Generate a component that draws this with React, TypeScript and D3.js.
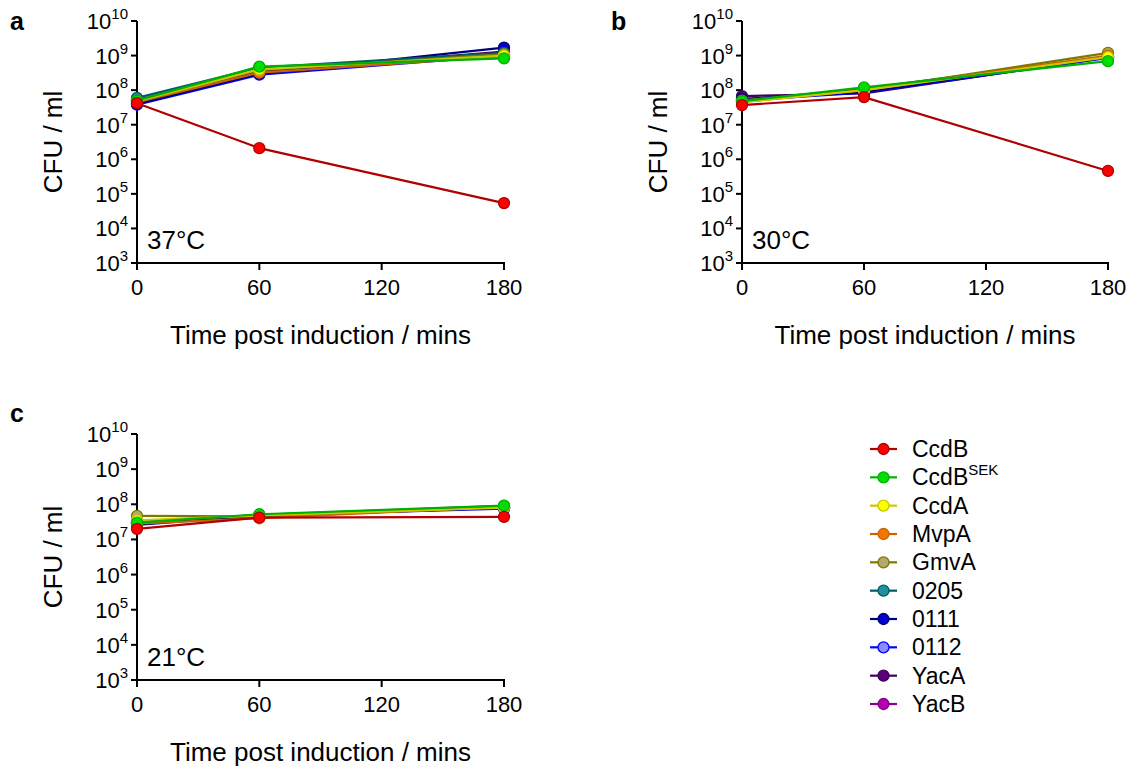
import React from "react";
import * as d3 from "d3";

const times = [0, 60, 180];
const xTicks = [0, 60, 120, 180];
const yExponents = [3, 4, 5, 6, 7, 8, 9, 10];
const seriesNames = ["CcdB", "CcdBSEK", "CcdA", "MvpA", "GmvA", "0205", "0111", "0112", "YacA", "YacB"];
const lineColors = ["#b00000", "#00b000", "#c8c800", "#c86400", "#7a7a00", "#005a6a", "#00007a", "#0000ff", "#40005a", "#8a008a"];
const fillColors = ["#ff0000", "#00dd00", "#ffff00", "#f07800", "#b4a86a", "#2090a0", "#0000d0", "#8c8cff", "#5a0078", "#b000b0"];

const panelA = [
  [4.2e7, 2.1e6, 5.4e4],
  [5.0e7, 4.8e8, 8.3e8],
  [4.8e7, 4.0e8, 1.0e9],
  [4.5e7, 3.2e8, 9.5e8],
  [5.0e7, 3.8e8, 1.1e9],
  [6.0e7, 4.5e8, 1.2e9],
  [4.0e7, 3.0e8, 1.7e9],
  [3.8e7, 2.8e8, 1.0e9],
  [5.2e7, 3.5e8, 1.3e9],
  [4.5e7, 3.5e8, 1.1e9],
];
const panelB = [
  [3.7e7, 6.3e7, 4.6e5],
  [4.8e7, 1.2e8, 6.9e8],
  [4.5e7, 1.0e8, 9.0e8],
  [4.5e7, 1.0e8, 1.0e9],
  [5.0e7, 1.0e8, 1.2e9],
  [5.0e7, 1.1e8, 9.5e8],
  [5.5e7, 9.0e7, 9.0e8],
  [5.0e7, 8.5e7, 8.5e8],
  [6.7e7, 8.0e7, 9.0e8],
  [5.5e7, 9.0e7, 9.0e8],
];
const panelC = [
  [2.0e7, 4.2e7, 4.4e7],
  [3.0e7, 5.2e7, 9.2e7],
  [3.5e7, 4.8e7, 8.0e7],
  [2.8e7, 4.0e7, 8.5e7],
  [4.7e7, 4.5e7, 8.5e7],
  [3.2e7, 5.0e7, 9.0e7],
  [2.6e7, 4.8e7, 8.0e7],
  [2.8e7, 4.8e7, 7.5e7],
  [3.0e7, 4.6e7, 8.0e7],
  [3.0e7, 4.6e7, 8.0e7],
];

const FONT = "Liberation Sans, Arial, sans-serif";

type PanelProps = {
  x0: number; x1: number; yTop: number; yBot: number;
  data: number[][]; letter: string; letterX: number; letterY: number; temp: string;
};

function Panel({ x0, x1, yTop, yBot, data, letter, letterX, letterY, temp }: PanelProps) {
  const x = d3.scaleLinear().domain([0, 180]).range([x0, x1]);
  const y = d3.scaleLog().domain([1e3, 1e10]).range([yBot, yTop]);
  const line = d3.line<number>().x((_, i) => x(times[i])).y((v) => y(v));
  const order = seriesNames.map((_, i) => i).reverse();
  return (
    <g>
      <text x={letterX} y={letterY} fontSize={25} fontWeight="bold" fontFamily={FONT}>{letter}</text>
      <line x1={x0} x2={x0} y1={yTop} y2={yBot} stroke="#000" strokeWidth={2} />
      <line x1={x0 - 1} x2={x1 + 1} y1={yBot} y2={yBot} stroke="#000" strokeWidth={2} />
      {yExponents.map((e) => (
        <g key={e}>
          <line x1={x0 - 6} x2={x0} y1={y(Math.pow(10, e))} y2={y(Math.pow(10, e))} stroke="#000" strokeWidth={2} />
          <text x={x0 - 9} y={y(Math.pow(10, e)) + 8} textAnchor="end" fontFamily={FONT} fontSize={22}>
            10<tspan fontSize={15} dy={-10}>{e}</tspan>
          </text>
        </g>
      ))}
      {xTicks.map((t) => (
        <g key={t}>
          <line x1={x(t)} x2={x(t)} y1={yBot} y2={yBot + 7} stroke="#000" strokeWidth={2} />
          <text x={x(t)} y={yBot + 32} textAnchor="middle" fontFamily={FONT} fontSize={22}>{t}</text>
        </g>
      ))}
      <text
        transform={`translate(${x0 - 75},${(yTop + yBot) / 2}) rotate(-90)`}
        textAnchor="middle" fontFamily={FONT} fontSize={26}
      >CFU / ml</text>
      <text x={(x0 + x1) / 2} y={yBot + 81} textAnchor="middle" fontFamily={FONT} fontSize={26}>
        Time post induction / mins
      </text>
      <text x={x0 + 10} y={yBot - 14} fontFamily={FONT} fontSize={26}>{temp}</text>
      {order.map((si) => (
        <g key={si}>
          <path d={line(data[si]) || ""} fill="none" stroke={lineColors[si]} strokeWidth={2.2} />
          {data[si].map((v, i) => (
            <circle key={i} cx={x(times[i])} cy={y(v)} r={5.5} fill={fillColors[si]} stroke={lineColors[si]} strokeWidth={1.3} />
          ))}
        </g>
      ))}
    </g>
  );
}

function Legend() {
  const ly = d3.scalePoint<number>().domain(seriesNames.map((_, i) => i)).range([449, 704]);
  return (
    <g>
      {seriesNames.map((name, i) => {
        const cy = ly(i) as number;
        return (
          <g key={name}>
            <line x1={870} x2={897} y1={cy} y2={cy} stroke={lineColors[i]} strokeWidth={2.2} />
            <circle cx={883.5} cy={cy} r={5.5} fill={fillColors[i]} stroke={lineColors[i]} strokeWidth={1.3} />
            <text x={912} y={cy + 8} fontFamily={FONT} fontSize={23}>
              {name === "CcdBSEK" ? (<>CcdB<tspan fontSize={15} dy={-10}>SEK</tspan></>) : name}
            </text>
          </g>
        );
      })}
    </g>
  );
}

export default function App() {
  return (
    <svg width={1135} height={767} style={{ position: "absolute", left: 0, top: 0, background: "#fff" }}>
      <rect width={1135} height={767} fill="#fff" />
      <Panel x0={137} x1={504} yTop={21} yBot={263} data={panelA} letter="a" letterX={10} letterY={30} temp="37°C" />
      <Panel x0={742} x1={1108} yTop={21} yBot={263} data={panelB} letter="b" letterX={611} letterY={30} temp="30°C" />
      <Panel x0={137} x1={504} yTop={434} yBot={680} data={panelC} letter="c" letterX={10} letterY={422} temp="21°C" />
      <Legend />
    </svg>
  );
}
